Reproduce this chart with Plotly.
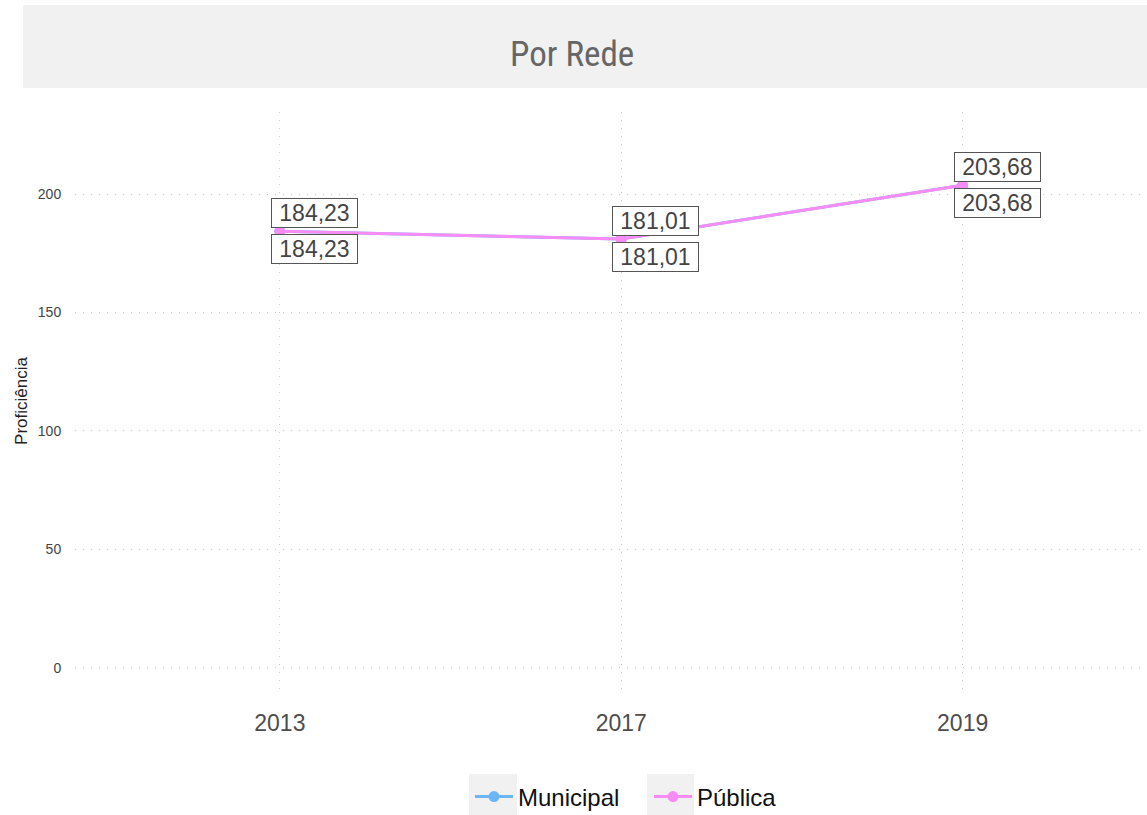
import plotly.graph_objects as go

years = ["2013", "2017", "2019"]
municipal = [184.23, 181.01, 203.68]
publica = [184.23, 181.01, 203.68]
series_names = ["Municipal", "Pública"]
series_colors = ["#6cb6f7", "#f88cf6"]
y_ticks = [0, 50, 100, 150, 200]

def fmt(v):
    return f"{v:.2f}".replace(".", ",")

fig = go.Figure()
for name, vals, col in zip(series_names, [municipal, publica], series_colors):
    fig.add_trace(go.Scatter(
        x=years, y=vals, mode="lines+markers", name=name,
        line=dict(color=col, width=3), marker=dict(color=col, size=11),
        hoverinfo="x+y+name"))

# value labels: upper for Municipal, lower for Pública
for vals, shift in [(municipal, 18), (publica, -18)]:
    for i, v in enumerate(vals):
        fig.add_annotation(x=i, y=v, xref="x", yref="y", text=fmt(v), showarrow=False,
                           yshift=shift, xshift=-9, xanchor="left", width=83,
                           font=dict(family="Liberation Sans, Arial", size=23, color="#444"),
                           bgcolor="white", bordercolor="#555", borderwidth=1, borderpad=1)

# title strip
fig.add_shape(type="rect", xref="paper", yref="paper", x0=-0.0485, x1=1.0, y0=1.0415, y1=1.185,
              fillcolor="#f1f1f1", line=dict(width=0), layer="below")
fig.add_annotation(xref="paper", yref="paper", x=(572 - 75) / 1072, y=(690 - 54) / 578,
                   xanchor="center", yanchor="middle",
                   text="Por Rede", showarrow=False,
                   font=dict(family="Roboto Condensed, Liberation Sans Narrow, Roboto", size=35, color="#666"))

# legend key backgrounds
for x0p, x1p in [(469, 517), (647, 694)]:
    fig.add_shape(type="rect", xref="paper", yref="paper",
                  x0=(x0p - 75) / 1072, x1=(x1p - 75) / 1072,
                  y0=(690 - 815) / 578, y1=(690 - 774) / 578,
                  fillcolor="#f1f1f1", line=dict(width=0), layer="below")

fig.update_layout(
    width=1147, height=815,
    margin=dict(l=75, r=0, t=112, b=125, autoexpand=False),
    paper_bgcolor="white", plot_bgcolor="white",
    showlegend=True,
    legend=dict(orientation="h", x=(470 - 75) / 1072, xanchor="left", y=(690 - 797) / 578, yanchor="middle",
                font=dict(family="Liberation Sans, Arial", size=24, color="#111"),
                bgcolor="rgba(0,0,0,0)", itemwidth=38, entrywidth=126, entrywidthmode="pixels"),
    xaxis=dict(type="category", range=[-0.6, 2.54], showgrid=True, gridcolor="#c8c8c8",
               griddash="1px,7px", gridwidth=1, zeroline=False, showline=False,
               ticks="outside", ticklen=12, tickcolor="rgba(0,0,0,0)",
               tickfont=dict(family="Liberation Sans, Arial", size=23, color="#4d4d4d")),
    yaxis=dict(range=[-9.3, 234.6], tickvals=y_ticks, showgrid=True, gridcolor="#c8c8c8",
               griddash="1px,7px", gridwidth=1, zeroline=False, showline=False,
               ticks="outside", ticklen=10, tickcolor="rgba(0,0,0,0)",
               tickfont=dict(family="Liberation Sans, Arial", size=14, color="#444"),
               title=dict(text="Proficiência", font=dict(family="Liberation Sans, Arial", size=17, color="#222"),
                          standoff=5)),
)

fig.write_html("out.html", config={"displayModeBar": False},
               post_script="document.body.style.margin='0';")
